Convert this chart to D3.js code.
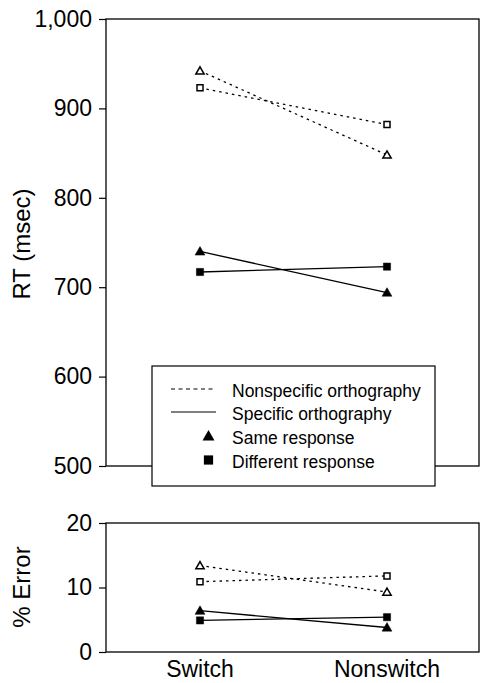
<!DOCTYPE html>
<html><head><meta charset="utf-8">
<script src="https://cdn.jsdelivr.net/npm/d3@7"></script>
<style>body{margin:0;background:#fff}svg{display:block;font-family:"Liberation Sans",Arial,sans-serif}</style>
</head><body><svg id="c" width="480" height="683"></svg>
<script>
const conditions = ["Switch", "Nonswitch"];
const rtTicks = [500, 600, 700, 800, 900, 1000];
const errTicks = [0, 10, 20];
// RT (msec)
const rtNonspecSame = [942, 848];
const rtNonspecDiff = [923, 882];
const rtSpecSame = [740, 694];
const rtSpecDiff = [717, 723];
// % Error
const errNonspecSame = [13.4, 9.3];
const errNonspecDiff = [10.9, 11.8];
const errSpecSame = [6.4, 3.8];
const errSpecDiff = [4.9, 5.4];
const legendLabels = ["Nonspecific orthography", "Specific orthography", "Same response", "Different response"];

const svg = d3.select("#c");
const x = d3.scalePoint().domain(conditions).range([200, 387]);
const yTop = d3.scaleLinear().domain([500, 1000]).range([466, 19]);
const yBot = d3.scaleLinear().domain([0, 20]).range([652, 523]);
const xLeft = 106, xRight = 479;

function panel(y, ticks, fmt, series, label, labelY) {
  const g = svg.append("g");
  g.append("rect").attr("x", xLeft).attr("y", y.range()[1]).attr("width", xRight - xLeft)
    .attr("height", y.range()[0] - y.range()[1]).attr("fill", "none").attr("stroke", "#000").attr("stroke-width", 1.3);
  const ax = g.append("g").attr("transform", `translate(${xLeft},0)`)
    .call(d3.axisLeft(y).tickValues(ticks).tickFormat(fmt).tickSize(7).tickPadding(7));
  ax.select(".domain").remove();
  ax.selectAll("line").attr("stroke-width", 1.2);
  ax.selectAll("text").attr("font-size", 23).attr("fill", "#000").attr("font-family", "Liberation Sans, Arial, sans-serif");
  const line = d3.line().x((d, i) => x(conditions[i])).y(d => y(d));
  series.forEach(s => {
    g.append("path").datum(s.vals).attr("d", line).attr("fill", "none").attr("stroke", "#000")
      .attr("stroke-width", 1.3).attr("stroke-dasharray", s.dashed ? "2.5,4" : null);
  });
  series.forEach(s => {
    const size = s.filled ? (s.tri ? 42 : 52) : (s.tri ? 30 : 36);
    const sym = d3.symbol().type(s.tri ? d3.symbolTriangle : d3.symbolSquare).size(size);
    g.selectAll(null).data(s.vals).enter().append("path")
      .attr("d", sym)
      .attr("transform", (d, i) => `translate(${x(conditions[i])},${y(d) + (s.tri ? 0.8 : 0)})`)
      .attr("fill", s.filled ? "#000" : "#fff").attr("stroke", "#000").attr("stroke-width", s.filled ? 0.5 : 1.5);
  });
  svg.append("text").attr("transform", `translate(${30},${labelY}) rotate(-90)`).attr("text-anchor", "middle")
    .attr("font-size", 24).text(label);
}

panel(yTop, rtTicks, d3.format(","), [
  {vals: rtNonspecSame, dashed: true, tri: true, filled: false},
  {vals: rtNonspecDiff, dashed: true, tri: false, filled: false},
  {vals: rtSpecSame, dashed: false, tri: true, filled: true},
  {vals: rtSpecDiff, dashed: false, tri: false, filled: true}
], "RT (msec)", 244);

panel(yBot, errTicks, d3.format("d"), [
  {vals: errNonspecSame, dashed: true, tri: true, filled: false},
  {vals: errNonspecDiff, dashed: true, tri: false, filled: false},
  {vals: errSpecSame, dashed: false, tri: true, filled: true},
  {vals: errSpecDiff, dashed: false, tri: false, filled: true}
], "% Error", 587);

// x labels
svg.selectAll(".xl").data(conditions).enter().append("text")
  .attr("x", d => x(d)).attr("y", 677).attr("text-anchor", "middle").attr("font-size", 23).text(d => d);

// legend
const lg = svg.append("g");
lg.append("rect").attr("x", 152).attr("y", 366).attr("width", 283).attr("height", 120)
  .attr("fill", "#fff").attr("stroke", "#000").attr("stroke-width", 1.2);
const rowBase = [397, 420, 444, 468];
lg.selectAll("text").data(legendLabels).enter().append("text")
  .attr("x", 232).attr("y", (d, i) => rowBase[i]).attr("font-size", 17.5).text(d => d);
lg.append("line").attr("x1", 171).attr("x2", 216).attr("y1", 389).attr("y2", 389)
  .attr("stroke", "#000").attr("stroke-width", 1.2).attr("stroke-dasharray", "4,3.5");
lg.append("line").attr("x1", 171).attr("x2", 216).attr("y1", 412).attr("y2", 412)
  .attr("stroke", "#000").attr("stroke-width", 1.2);
lg.append("path").attr("d", d3.symbol().type(d3.symbolTriangle).size(62))
  .attr("transform", `translate(208.5,437)`).attr("fill", "#000");
lg.append("path").attr("d", d3.symbol().type(d3.symbolSquare).size(85))
  .attr("transform", `translate(208.5,460)`).attr("fill", "#000");
</script></body></html>
